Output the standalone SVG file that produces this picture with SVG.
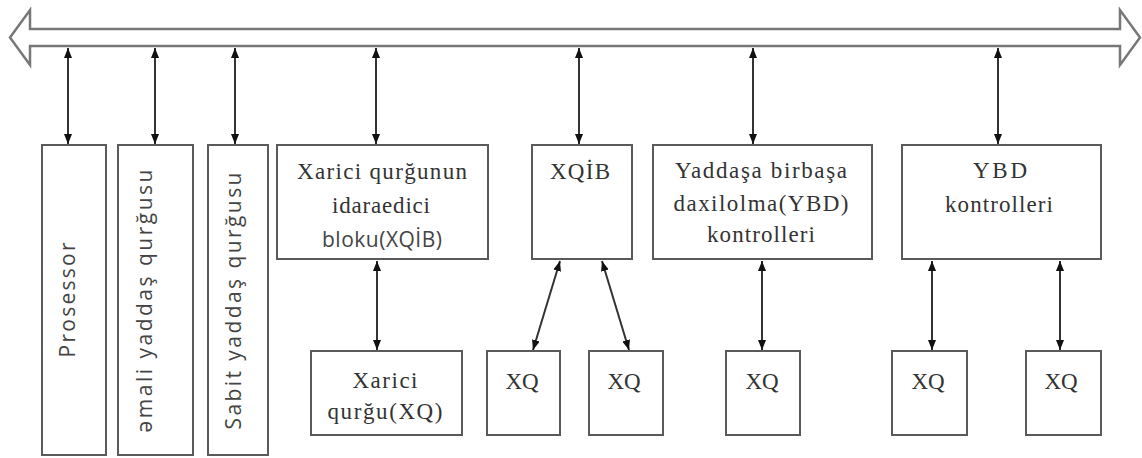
<svg xmlns="http://www.w3.org/2000/svg" width="1142" height="458" viewBox="0 0 1142 458">
<style>
.box{fill:#fff;stroke:#5a5a5a;stroke-width:2}
.bus{fill:#fff;stroke:#777;stroke-width:2.5}
.con{stroke:#333;stroke-width:2;fill:none;marker-start:url(#ah);marker-end:url(#ah)}
.s{font-family:"Liberation Serif","Times New Roman",serif;font-size:23px;fill:#333;text-anchor:middle}
.ss{font-family:"Open Sans","Liberation Sans",sans-serif;font-size:21px;fill:#444;text-anchor:middle}
</style>
<defs>
<marker id="ah" viewBox="0 0 10 10" refX="10" refY="5" markerWidth="10" markerHeight="10" markerUnits="userSpaceOnUse" orient="auto-start-reverse">
<path d="M0,1 L10,5 L0,9 Z" fill="#111"/>
</marker>
</defs>
<g id="bus">
<polygon class="bus" points="10,37.5 30,10 30,29 1120,29 1120,10 1140,37.5 1120,65 1120,46 30,46 30,65"/>
</g>
<g id="connectors">
<line class="con" x1="68" y1="48" x2="68" y2="144"/>
<line class="con" x1="155" y1="48" x2="155" y2="144"/>
<line class="con" x1="235" y1="48" x2="235" y2="144"/>
<line class="con" x1="376" y1="48" x2="376" y2="144"/>
<line class="con" x1="579" y1="48" x2="579" y2="144"/>
<line class="con" x1="753" y1="48" x2="753" y2="144"/>
<line class="con" x1="998" y1="48" x2="998" y2="144"/>
<line class="con" x1="377" y1="261" x2="377" y2="350"/>
<line class="con" x1="560" y1="261" x2="533" y2="350"/>
<line class="con" x1="602" y1="261" x2="629" y2="350"/>
<line class="con" x1="762" y1="261" x2="762" y2="350"/>
<line class="con" x1="932" y1="261" x2="932" y2="350"/>
<line class="con" x1="1060" y1="261" x2="1060" y2="350"/>
</g>
<g id="prosessor">
<rect class="box" x="42" y="145" width="64" height="310"/>
<text class="ss" transform="translate(75,300) rotate(-90)" textLength="115" lengthAdjust="spacing">Prosessor</text>
</g>
<g id="emali">
<rect class="box" x="118" y="145" width="75" height="310"/>
<text class="ss" transform="translate(152,301) rotate(-90)" textLength="263" lengthAdjust="spacing">əmali yaddaş qurğusu</text>
</g>
<g id="sabit">
<rect class="box" x="208" y="145" width="60" height="310"/>
<text class="ss" transform="translate(241,301) rotate(-90)" textLength="257" lengthAdjust="spacing">Sabit yaddaş qurğusu</text>
</g>
<g id="xqib-block">
<rect class="box" x="277" y="145" width="211" height="114"/>
<text class="s" x="382" y="179" textLength="170" lengthAdjust="spacing">Xarici qurğunun</text>
<text class="s" x="381" y="213" textLength="98" lengthAdjust="spacing">idaraedici</text>
<text class="ss" x="382" y="247" font-size="20" textLength="120" lengthAdjust="spacing">bloku(XQİB)</text>
</g>
<g id="xarici-qurgu">
<rect class="box" x="311" y="351" width="151" height="84"/>
<text class="s" x="385" y="388" textLength="65" lengthAdjust="spacing">Xarici</text>
<text class="s" x="385" y="419" textLength="115" lengthAdjust="spacing">qurğu(XQ)</text>
</g>
<g id="xqib">
<rect class="box" x="532" y="145" width="100" height="114"/>
<text class="s" x="580" y="179" textLength="60" lengthAdjust="spacing">XQİB</text>
</g>
<g id="xq1">
<rect class="box" x="487" y="351" width="73" height="84"/>
<text class="s" x="522" y="389">XQ</text>
</g>
<g id="xq2">
<rect class="box" x="589" y="351" width="74" height="84"/>
<text class="s" x="624" y="389">XQ</text>
</g>
<g id="ybd-long">
<rect class="box" x="653" y="145" width="219" height="114"/>
<text class="s" x="761" y="178" textLength="172" lengthAdjust="spacing">Yaddaşa birbaşa</text>
<text class="s" x="761" y="211" textLength="175" lengthAdjust="spacing">daxilolma(YBD)</text>
<text class="s" x="761" y="242" textLength="108" lengthAdjust="spacing">kontrolleri</text>
</g>
<g id="xq3">
<rect class="box" x="726" y="351" width="74" height="84"/>
<text class="s" x="762" y="389">XQ</text>
</g>
<g id="ybd">
<rect class="box" x="902" y="145" width="199" height="114"/>
<text class="s" x="1000" y="178" textLength="54" lengthAdjust="spacing">YBD</text>
<text class="s" x="999" y="212" textLength="108" lengthAdjust="spacing">kontrolleri</text>
</g>
<g id="xq4">
<rect class="box" x="892" y="351" width="75" height="84"/>
<text class="s" x="928" y="389">XQ</text>
</g>
<g id="xq5">
<rect class="box" x="1026" y="351" width="75" height="84"/>
<text class="s" x="1061" y="389">XQ</text>
</g>
</svg>
